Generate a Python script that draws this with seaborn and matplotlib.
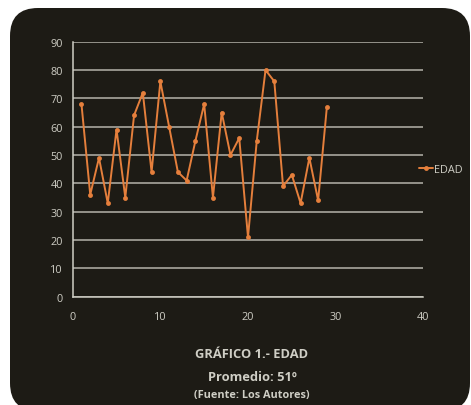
import matplotlib
matplotlib.use("Agg")
import matplotlib.pyplot as plt
from matplotlib.patches import FancyBboxPatch
import seaborn as sns
import pandas as pd

# Edad de cada encuestado (1..29)
encuestado = list(range(1, 30))
edad = [68, 36, 49, 33, 59, 35, 64, 72, 44, 76, 60, 44, 41, 55, 68,
        35, 65, 50, 56, 21, 55, 80, 76, 39, 43, 33, 49, 34, 67]
x_ticks = [0, 10, 20, 30, 40]
y_ticks = [0, 10, 20, 30, 40, 50, 60, 70, 80, 90]
serie = "EDAD"
titulo = "GRÁFICO 1.- EDAD"
promedio = "Promedio: 51º"
fuente = "(Fuente: Los Autores)"

df = pd.DataFrame({"x": encuestado, "y": edad, "serie": serie})

sns.set_style("white")
plt.rcParams["font.family"] = ["Open Sans", "DejaVu Sans"]

BG = "#1d1b15"
FG = "#cfcec5"
ORANGE = "#e57f3c"

fig = plt.figure(figsize=(4.71, 4.06), dpi=100, facecolor="white")

# dark rounded panel behind the chart, drawn in a full-figure axes (pixel units)
bg_ax = fig.add_axes([0, 0, 1, 1], zorder=-5)
bg_ax.set_xlim(0, 471)
bg_ax.set_ylim(406, 0)
bg_ax.axis("off")
bg_ax.add_patch(FancyBboxPatch((10, 9), 460, 403,
                               boxstyle="round,pad=0,rounding_size=28",
                               facecolor=BG, edgecolor="none"))

ax = fig.add_axes([72.7 / 471, 1 - 297.7 / 406, (423.3 - 72.7) / 471,
                   (297.7 - 42.7) / 406], zorder=1)
ax.set_facecolor("none")

sns.lineplot(data=df, x="x", y="y", hue="serie", palette=[ORANGE],
             marker="o", markersize=3.5, markeredgewidth=0, linewidth=1.4,
             ax=ax, legend=True, zorder=3)

ax.set_xlim(0, 40)
ax.set_ylim(0, 90)
ax.set_xticks(x_ticks)
ax.set_yticks(y_ticks)
ax.set_xlabel("")
ax.set_ylabel("")
ax.grid(axis="y", color=FG, linewidth=1.1, alpha=0.85)
ax.grid(axis="x", visible=False)
for side in ["top", "right"]:
    ax.spines[side].set_visible(False)
for side in ["left", "bottom"]:
    ax.spines[side].set_color(FG)
    ax.spines[side].set_linewidth(1.1)
ax.tick_params(axis="both", colors=FG, labelsize=7.8, length=3, width=0.8,
               direction="out")
ax.tick_params(axis="y", length=3, pad=4)
ax.tick_params(axis="x", pad=7)

leg = ax.legend(loc="center left", bbox_to_anchor=(0.975, 0.50),
                frameon=False, fontsize=7.8, handlelength=1.3,
                handletextpad=0.1, borderaxespad=0)
for t in leg.get_texts():
    t.set_color(FG)

fig.text(252 / 471, 1 - 355 / 406, titulo, ha="center", va="center",
         color=FG, fontsize=9.3, fontweight="bold")
fig.text(252 / 471, 1 - 378 / 406, promedio, ha="center", va="center",
         color=FG, fontsize=9.3, fontweight="bold")
fig.text(252 / 471, 1 - 396 / 406, fuente, ha="center", va="center",
         color=FG, fontsize=7.8, fontweight="bold")

fig.savefig("out.png", dpi=100, facecolor="white")
